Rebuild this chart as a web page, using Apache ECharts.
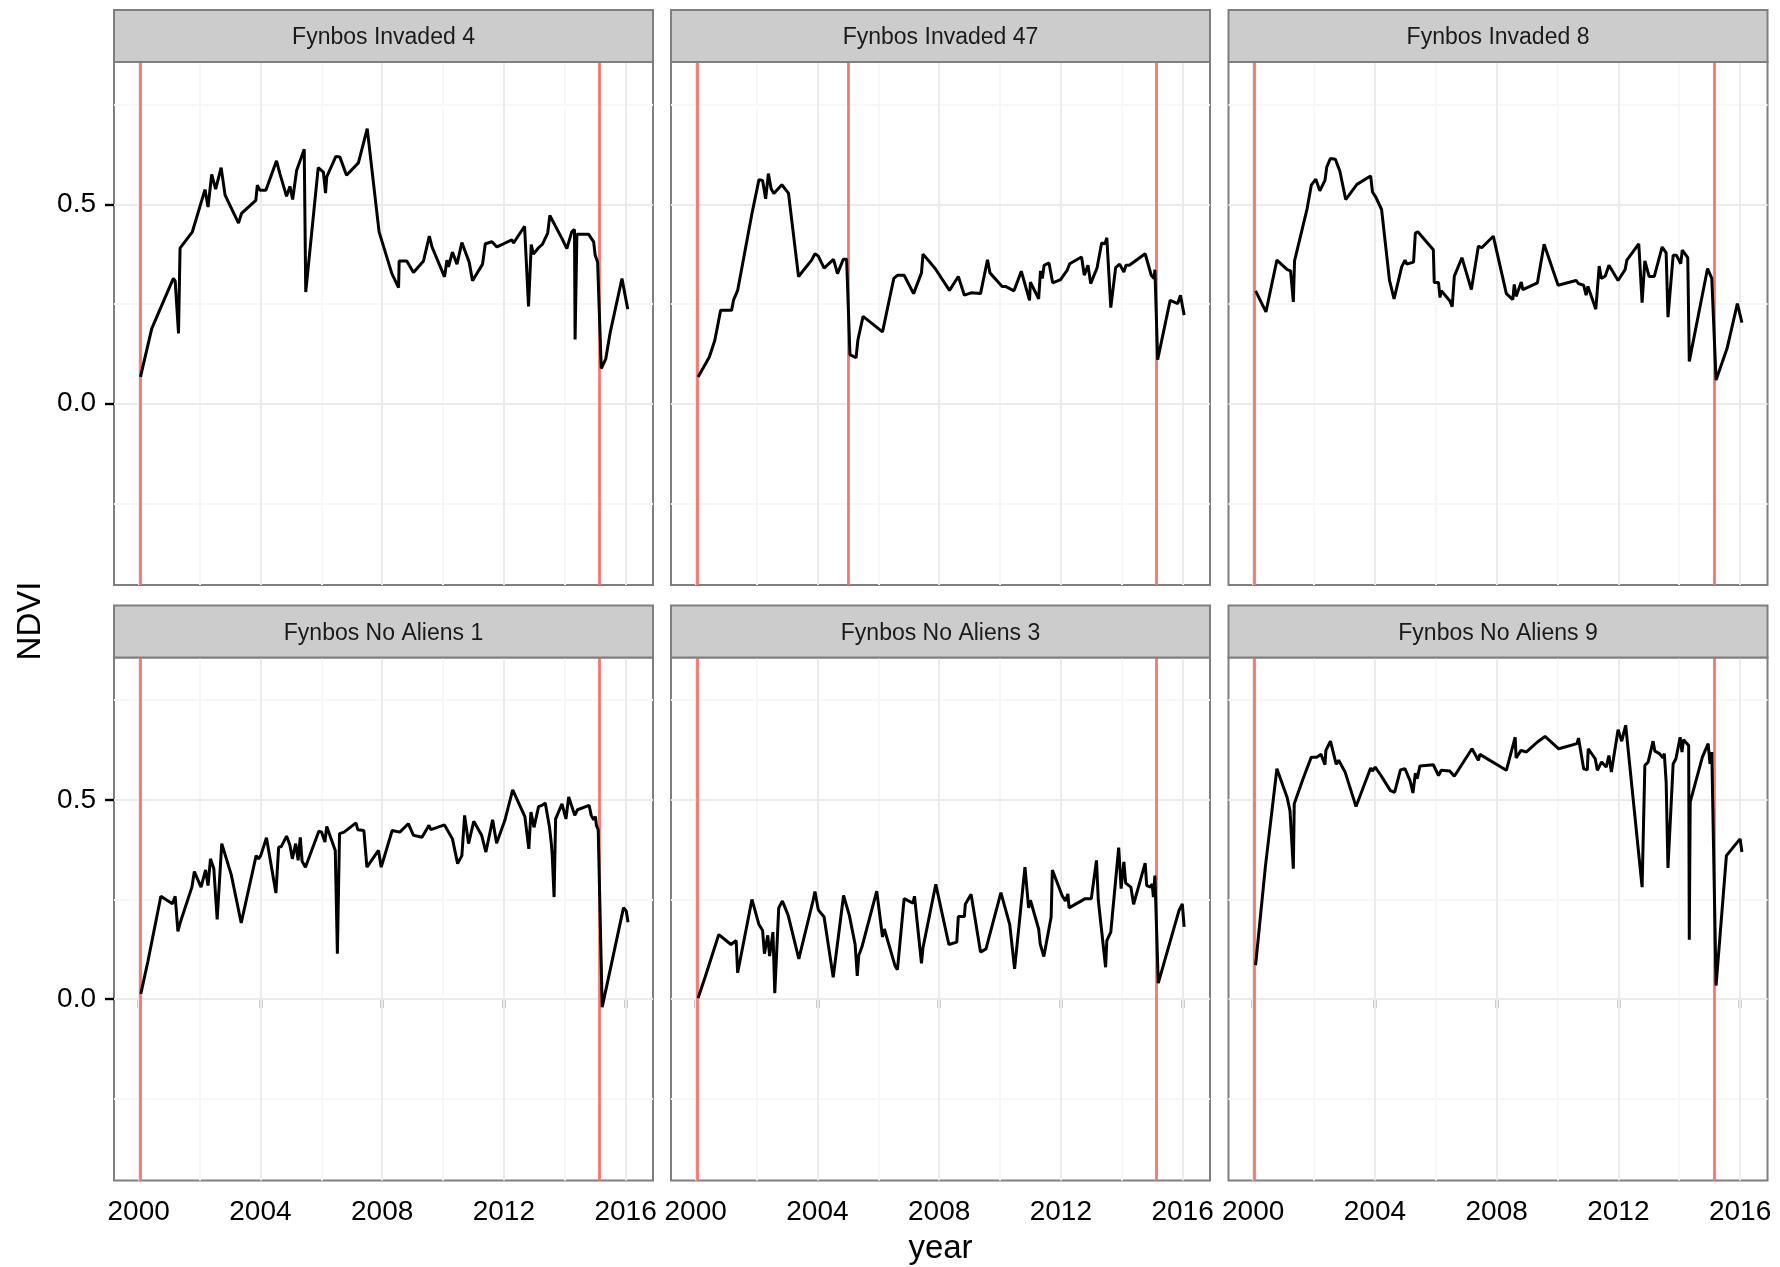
<!DOCTYPE html>
<html><head><meta charset="utf-8">
<script src="https://cdn.jsdelivr.net/npm/echarts@6/dist/echarts.min.js"></script>
<style>html,body{margin:0;padding:0;background:#fff}#c{width:1780px;height:1267px}</style>
</head><body><div id="c"></div><script>
// ---------- DATA ----------
const panelNames = ['Fynbos Invaded 4','Fynbos Invaded 47','Fynbos Invaded 8','Fynbos No Aliens 1','Fynbos No Aliens 3','Fynbos No Aliens 9'];
const xTickLabels = [2000, 2004, 2008, 2012, 2016];
const xMinorGrid = [2002, 2006, 2010, 2014];
const yTickLabels = [0, 0.5];
const yMinorGrid = [-0.25, 0.25, 0.75];

const yearsInv4 = [2000.06,2000.43,2001.14,2001.20,2001.31,2001.36,2001.76,2002.18,2002.28,2002.40,2002.53,2002.71,2002.84,2003.28,2003.38,2003.85,2003.90,2003.99,2004.18,2004.53,2004.64,2004.86,2004.97,2005.06,2005.19,2005.44,2005.49,2005.90,2006.07,2006.14,2006.18,2006.48,2006.61,2006.83,2007.22,2007.51,2007.90,2008.32,2008.54,2008.56,2008.81,2009.03,2009.36,2009.55,2009.64,2010.05,2010.13,2010.18,2010.31,2010.46,2010.62,2010.86,2010.97,2011.30,2011.39,2011.61,2011.77,2011.99,2012.26,2012.32,2012.68,2012.81,2012.90,2012.97,2013.14,2013.27,2013.44,2013.51,2013.91,2014.07,2014.23,2014.32,2014.34,2014.40,2014.78,2014.95,2015.00,2015.08,2015.20,2015.35,2015.49,2015.88,2016.07];
const ndviInv4 = [0.067,0.188,0.314,0.308,0.176,0.390,0.430,0.537,0.493,0.575,0.538,0.592,0.523,0.453,0.477,0.510,0.548,0.535,0.535,0.609,0.577,0.520,0.545,0.512,0.585,0.638,0.280,0.592,0.581,0.528,0.569,0.620,0.619,0.573,0.604,0.690,0.431,0.326,0.291,0.358,0.358,0.329,0.358,0.420,0.393,0.318,0.360,0.343,0.380,0.350,0.404,0.355,0.308,0.350,0.401,0.406,0.393,0.401,0.411,0.403,0.445,0.244,0.399,0.375,0.391,0.400,0.428,0.472,0.414,0.389,0.431,0.437,0.161,0.425,0.425,0.406,0.372,0.355,0.088,0.113,0.177,0.314,0.237];
const fireInv4 = [2000.04, 2015.15];

const yearsInv47 = [2000.08,2000.45,2000.63,2000.82,2001.18,2001.25,2001.38,2001.85,2002.08,2002.20,2002.30,2002.39,2002.48,2002.57,2002.83,2003.05,2003.38,2003.81,2003.92,2004.03,2004.22,2004.53,2004.66,2004.85,2004.96,2005.07,2005.27,2005.33,2005.50,2006.14,2006.51,2006.63,2006.85,2007.16,2007.42,2007.47,2007.87,2008.34,2008.63,2008.83,2009.05,2009.36,2009.59,2009.67,2010.07,2010.18,2010.46,2010.70,2010.97,2011.00,2011.27,2011.33,2011.39,2011.45,2011.61,2011.73,2011.99,2012.21,2012.29,2012.68,2012.77,2012.89,2012.98,2013.19,2013.34,2013.45,2013.51,2013.64,2013.80,2013.93,2014.07,2014.14,2014.25,2014.77,2014.97,2015.06,2015.09,2015.18,2015.59,2015.84,2015.93,2016.05];
const ndviInv47 = [0.067,0.117,0.159,0.234,0.234,0.261,0.284,0.477,0.562,0.560,0.514,0.577,0.539,0.527,0.549,0.528,0.319,0.360,0.376,0.370,0.340,0.362,0.326,0.362,0.362,0.123,0.115,0.159,0.219,0.180,0.314,0.322,0.322,0.276,0.328,0.375,0.339,0.284,0.319,0.272,0.278,0.276,0.361,0.328,0.294,0.294,0.283,0.332,0.259,0.305,0.263,0.333,0.314,0.347,0.353,0.303,0.311,0.335,0.351,0.368,0.322,0.347,0.301,0.341,0.403,0.401,0.416,0.241,0.341,0.350,0.330,0.347,0.347,0.376,0.322,0.314,0.336,0.110,0.259,0.251,0.272,0.222];
const fireInv47 = [2000.04, 2005.02, 2015.15];

const yearsInv8 = [2000.08,2000.42,2000.78,2001.12,2001.23,2001.32,2001.36,2001.77,2001.91,2002.06,2002.19,2002.36,2002.42,2002.54,2002.70,2002.85,2003.04,2003.41,2003.86,2003.92,2004.03,2004.22,2004.48,2004.63,2004.88,2004.99,2005.05,2005.27,2005.33,2005.41,2005.92,2005.95,2006.09,2006.14,2006.18,2006.46,2006.54,2006.61,2006.86,2007.17,2007.40,2007.51,2007.89,2008.32,2008.53,2008.58,2008.64,2008.81,2008.86,2009.34,2009.56,2010.02,2010.61,2010.69,2010.86,2010.94,2011.00,2011.26,2011.37,2011.44,2011.57,2011.69,2011.99,2012.22,2012.28,2012.67,2012.78,2012.87,2013.01,2013.18,2013.44,2013.57,2013.63,2013.80,2013.91,2014.05,2014.10,2014.28,2014.33,2014.93,2015.07,2015.21,2015.57,2015.91,2016.06];
const ndviInv8 = [0.283,0.230,0.360,0.336,0.333,0.255,0.358,0.488,0.548,0.563,0.534,0.560,0.594,0.615,0.613,0.583,0.512,0.550,0.571,0.531,0.518,0.487,0.309,0.263,0.343,0.360,0.350,0.355,0.428,0.431,0.386,0.304,0.304,0.266,0.283,0.258,0.243,0.320,0.366,0.286,0.395,0.391,0.420,0.276,0.261,0.299,0.269,0.305,0.286,0.303,0.400,0.297,0.309,0.301,0.297,0.272,0.294,0.237,0.345,0.314,0.320,0.347,0.309,0.336,0.360,0.401,0.253,0.358,0.319,0.319,0.393,0.378,0.217,0.372,0.372,0.351,0.385,0.366,0.106,0.339,0.314,0.059,0.138,0.251,0.203];
const fireInv8 = [2000.04, 2015.15];

const yearsNa1 = [2000.07,2000.30,2000.73,2001.11,2001.20,2001.29,2001.37,2001.75,2001.83,2002.05,2002.20,2002.28,2002.36,2002.47,2002.58,2002.73,2003.04,2003.37,2003.86,2003.94,2004.01,2004.20,2004.51,2004.60,2004.69,2004.86,2004.97,2005.05,2005.16,2005.24,2005.31,2005.37,2005.48,2005.92,2006.01,2006.12,2006.18,2006.46,2006.53,2006.60,2006.75,2007.14,2007.20,2007.40,2007.50,2007.88,2007.97,2008.33,2008.58,2008.86,2009.03,2009.31,2009.54,2009.60,2010.05,2010.31,2010.48,2010.62,2010.71,2010.84,2011.01,2011.27,2011.41,2011.63,2011.76,2012.03,2012.29,2012.69,2012.82,2012.89,2012.99,2013.14,2013.25,2013.36,2013.50,2013.56,2013.59,2013.65,2013.70,2013.91,2014.04,2014.13,2014.33,2014.42,2014.80,2014.87,2014.95,2015.01,2015.04,2015.10,2015.23,2015.93,2016.02,2016.08];
const ndviNa1 = [0.013,0.093,0.258,0.239,0.258,0.170,0.193,0.281,0.320,0.281,0.324,0.285,0.352,0.327,0.200,0.390,0.313,0.191,0.360,0.352,0.360,0.405,0.266,0.381,0.383,0.409,0.386,0.352,0.390,0.348,0.406,0.346,0.331,0.421,0.419,0.394,0.433,0.373,0.114,0.415,0.419,0.442,0.425,0.423,0.331,0.373,0.331,0.423,0.419,0.440,0.411,0.406,0.436,0.425,0.437,0.402,0.340,0.360,0.461,0.390,0.446,0.411,0.369,0.450,0.391,0.448,0.525,0.458,0.377,0.469,0.431,0.483,0.486,0.492,0.431,0.390,0.360,0.256,0.452,0.490,0.452,0.507,0.461,0.475,0.486,0.461,0.450,0.458,0.436,0.425,-0.020,0.229,0.221,0.193];
const fireNa1 = [2000.04, 2015.15];

const yearsNa3 = [2000.08,2000.31,2000.76,2001.16,2001.33,2001.38,2001.85,2002.08,2002.20,2002.26,2002.37,2002.43,2002.54,2002.60,2002.73,2002.85,2003.04,2003.39,2003.86,2003.92,2004.03,2004.22,2004.52,2004.86,2005.05,2005.24,2005.31,2005.36,2005.46,2005.95,2006.14,2006.20,2006.55,2006.63,2006.85,2007.14,2007.19,2007.42,2007.47,2007.89,2008.32,2008.58,2008.63,2008.83,2008.86,2009.05,2009.36,2009.54,2010.03,2010.32,2010.48,2010.82,2010.94,2011.00,2011.27,2011.32,2011.36,2011.44,2011.68,2011.72,2012.04,2012.15,2012.23,2012.27,2012.80,2013.00,2013.17,2013.23,2013.47,2013.51,2013.64,2013.90,2013.98,2014.07,2014.13,2014.30,2014.39,2014.77,2014.82,2014.95,2015.00,2015.04,2015.09,2015.20,2015.88,2015.99,2016.05];
const ndviNa3 = [0.003,0.055,0.162,0.137,0.147,0.066,0.250,0.187,0.172,0.114,0.160,0.108,0.168,0.015,0.229,0.246,0.210,0.101,0.248,0.270,0.224,0.206,0.055,0.260,0.210,0.137,0.058,0.110,0.130,0.271,0.156,0.176,0.084,0.074,0.252,0.241,0.258,0.090,0.129,0.288,0.137,0.143,0.207,0.207,0.238,0.263,0.118,0.126,0.267,0.187,0.076,0.331,0.229,0.248,0.176,0.139,0.137,0.107,0.206,0.324,0.260,0.246,0.264,0.229,0.252,0.252,0.348,0.248,0.080,0.147,0.168,0.380,0.277,0.344,0.291,0.281,0.238,0.341,0.285,0.281,0.289,0.256,0.310,0.040,0.222,0.239,0.181];
const fireNa3 = [2000.04, 2015.15];

const yearsNa9 = [2000.08,2000.40,2000.78,2001.12,2001.21,2001.32,2001.35,2001.64,2001.91,2002.09,2002.23,2002.36,2002.39,2002.54,2002.73,2002.81,2003.02,2003.38,2003.86,2003.92,2004.01,2004.20,2004.51,2004.65,2004.84,2004.99,2005.16,2005.25,2005.33,2005.39,2005.48,2005.92,2006.09,2006.18,2006.46,2006.61,2007.19,2007.40,2007.45,2008.32,2008.61,2008.64,2008.80,2008.98,2009.34,2009.59,2010.04,2010.64,2010.69,2010.86,2010.98,2011.01,2011.24,2011.31,2011.45,2011.60,2011.69,2011.77,2011.99,2012.11,2012.24,2012.78,2012.87,2012.98,2013.14,2013.20,2013.35,2013.46,2013.51,2013.57,2013.63,2013.80,2013.89,2014.03,2014.09,2014.14,2014.31,2014.33,2014.36,2014.76,2014.95,2015.01,2015.07,2015.21,2015.55,2016.00,2016.06];
const ndviNa9 = [0.085,0.331,0.578,0.505,0.473,0.327,0.490,0.553,0.607,0.607,0.614,0.588,0.624,0.647,0.589,0.599,0.570,0.483,0.580,0.572,0.582,0.561,0.523,0.519,0.575,0.578,0.547,0.517,0.567,0.553,0.585,0.588,0.561,0.574,0.572,0.559,0.628,0.599,0.614,0.574,0.657,0.605,0.624,0.620,0.645,0.659,0.628,0.641,0.655,0.578,0.575,0.628,0.603,0.574,0.595,0.582,0.611,0.570,0.676,0.647,0.687,0.281,0.586,0.595,0.647,0.622,0.616,0.605,0.616,0.544,0.329,0.590,0.603,0.657,0.620,0.651,0.636,0.149,0.494,0.607,0.641,0.590,0.620,0.034,0.360,0.402,0.369];
const fireNa9 = [2000.04, 2015.15];

// ---------- LAYOUT / STYLE ----------
const panels = [
  {years: yearsInv4, ndvi: ndviInv4, fire: fireInv4},
  {years: yearsInv47, ndvi: ndviInv47, fire: fireInv47},
  {years: yearsInv8, ndvi: ndviInv8, fire: fireInv8},
  {years: yearsNa1, ndvi: ndviNa1, fire: fireNa1},
  {years: yearsNa3, ndvi: ndviNa3, fire: fireNa3},
  {years: yearsNa9, ndvi: ndviNa9, fire: fireNa9}
];
const FONT = '"Liberation Sans", Arial, Helvetica, sans-serif';
const COL_LEFT = [114, 671, 1228.5];
const ROW_TOP = [62, 657.5];
const PW = 539, PH = 523, STRIP_H = 52;
const X_MIN = 1999.19, X_MAX = 2016.9;
const Y_MIN = -0.455, Y_MAX = 0.857;

const grids = [], xAxes = [], yAxes = [], series = [], graphics = [];
panels.forEach((p, i) => {
  const c = i % 3, r = Math.floor(i / 3);
  const left = COL_LEFT[c], top = ROW_TOP[r];
  grids.push({left: left, top: top, width: PW, height: PH, show: true,
    borderColor: '#7F7F7F', borderWidth: 2, backgroundColor: '#FFFFFF', containLabel: false});
  const bottomRow = r === 1, leftCol = c === 0;
  xAxes.push({type: 'value', gridIndex: i, min: X_MIN, max: X_MAX,
    axisLine: {show: false}, splitLine: {show: false},
    axisTick: {show: bottomRow, customValues: xTickLabels, length: 9, lineStyle: {color: '#000', width: 2.4}},
    axisLabel: {show: bottomRow, customValues: xTickLabels, margin: 18, fontSize: 28, color: '#000', fontFamily: FONT,
      formatter: v => String(Math.round(v))}});
  yAxes.push({type: 'value', gridIndex: i, min: Y_MIN, max: Y_MAX,
    axisLine: {show: false}, splitLine: {show: false},
    axisTick: {show: leftCol, customValues: yTickLabels, length: 9, lineStyle: {color: '#000', width: 2.4}},
    axisLabel: {show: leftCol, customValues: yTickLabels, margin: 18, fontSize: 28, color: '#000', fontFamily: FONT,
      formatter: v => v.toFixed(1)}});
  const gl = (key, v, color) => ({[key]: v, lineStyle: {color: color, width: 2, type: 'solid'}});
  series.push({type: 'line', xAxisIndex: i, yAxisIndex: i, data: [], silent: true, z: 1,
    markLine: {z: 1, silent: true, symbol: ['none', 'none'], animation: false, label: {show: false}, emphasis: {disabled: true},
      data: [].concat(
        xMinorGrid.map(v => gl('xAxis', v, '#F7F7F7')),
        yMinorGrid.map(v => gl('yAxis', v, '#F7F7F7')),
        xTickLabels.map(v => gl('xAxis', v, '#EBEBEB')),
        yTickLabels.map(v => gl('yAxis', v, '#EBEBEB')))}});
  series.push({type: 'line', xAxisIndex: i, yAxisIndex: i, data: [], silent: true, z: 2,
    markLine: {z: 2, silent: true, symbol: ['none', 'none'], animation: false, label: {show: false}, emphasis: {disabled: true},
      data: p.fire.map(v => ({xAxis: v, lineStyle: {color: '#F8766D', width: 2.8, type: 'solid'}}))}});
  series.push({type: 'line', xAxisIndex: i, yAxisIndex: i, z: 3, showSymbol: false, symbol: 'none',
    lineStyle: {color: '#000', width: 3}, silent: true, clip: true,
    data: p.years.map((y, k) => [y, p.ndvi[k]])});
  const sTop = top - STRIP_H;
  graphics.push({type: 'rect', shape: {x: left, y: sTop, width: PW, height: STRIP_H},
    style: {fill: '#CCCCCC', stroke: '#7F7F7F', lineWidth: 2}, z: 10});
  graphics.push({type: 'text', x: left + PW / 2, y: sTop + STRIP_H / 2 + 2,
    style: {text: panelNames[i], fontSize: 23, fontFamily: FONT, fill: '#1A1A1A', align: 'center', verticalAlign: 'middle'}, z: 11});
});
graphics.push({type: 'text', x: 940.5, y: 1249,
  style: {text: 'year', fontSize: 33, fontFamily: FONT, fill: '#000', align: 'center', verticalAlign: 'middle'}});
graphics.push({type: 'text', x: 31, y: 621, rotation: Math.PI / 2,
  style: {text: 'NDVI', fontSize: 33, fontFamily: FONT, fill: '#000', align: 'center', verticalAlign: 'middle'}});

const chart = echarts.init(document.getElementById('c'), null, {renderer: 'canvas'});
chart.setOption({
  animation: false,
  backgroundColor: '#FFFFFF',
  textStyle: {fontFamily: FONT},
  grid: grids, xAxis: xAxes, yAxis: yAxes, series: series, graphic: graphics
});
</script></body></html>
